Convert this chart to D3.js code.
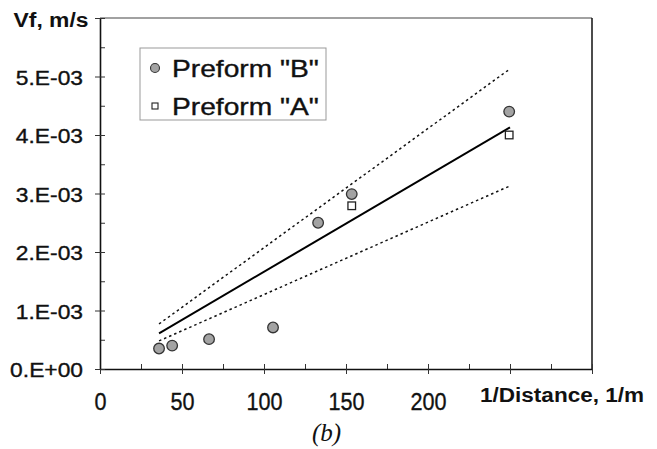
<!DOCTYPE html>
<html>
<head>
<meta charset="utf-8">
<script src="https://cdn.jsdelivr.net/npm/d3@7"></script>
<style>
  html, body { margin: 0; padding: 0; background: #fff; }
  svg { display: block; }
</style>
</head>
<body>
<svg id="chart" width="657" height="449"></svg>
<script>
// ---- data ----
const preformB_x = [36, 44, 66.5, 105.5, 133, 153.5, 249.5];
const preformB_y = [0.00035, 0.00040, 0.00051, 0.00071, 0.00250, 0.00299, 0.00440];
const preformA_x = [153.5, 249.5];
const preformA_y = [0.00279, 0.00400];
const fitLine   = [[36, 0.00061], [250, 0.00413]];
const upperLine = [[36, 0.00077], [250, 0.00513]];
const lowerLine = [[36, 0.00048], [250, 0.00313]];
const xTickValues = [0, 50, 100, 150, 200, 250, 300];
const xTickLabels = ["0", "50", "100", "150", "200", "", ""];
const yTickValues = [0, 0.001, 0.002, 0.003, 0.004, 0.005, 0.006];
const yTickLabels = ["0.E+00", "1.E-03", "2.E-03", "3.E-03", "4.E-03", "5.E-03", ""];
const legendLabels = ['Preform "B"', 'Preform "A"'];

// ---- layout ----
const L = 100, R = 592, T = 18, B = 369;
const svg = d3.select("#chart");
const x = d3.scaleLinear().domain([0, 300]).range([L, R]);
const y = d3.scaleLinear().domain([0, 0.006]).range([B, T]);
const font = "'Liberation Sans', Arial, sans-serif";

// frame (top and right)
svg.append("line").attr("x1", L).attr("x2", R).attr("y1", T).attr("y2", T)
  .attr("stroke", "#444").attr("stroke-width", 1.2);
svg.append("line").attr("x1", R).attr("x2", R).attr("y1", T).attr("y2", B)
  .attr("stroke", "#111").attr("stroke-width", 1.5);

// x axis: minor ticks (inside)
const xMinor = d3.range(25, 300, 50);
svg.append("g").attr("transform", `translate(0,${B})`)
  .call(d3.axisBottom(x).tickValues(xMinor).tickSize(-5).tickFormat(""))
  .call(g => g.select(".domain").remove())
  .call(g => g.selectAll("line").attr("stroke", "#333").attr("stroke-width", 1));
// x axis: major ticks (crossing)
const gx = svg.append("g").attr("transform", `translate(0,${B})`)
  .call(d3.axisBottom(x).tickValues(xTickValues).tickSize(5).tickSizeOuter(0)
    .tickFormat((d, i) => xTickLabels[i]));
gx.select(".domain").attr("stroke", "#111").attr("stroke-width", 1.6);
gx.selectAll(".tick line").attr("y1", -5).attr("y2", 5).attr("stroke", "#333").attr("stroke-width", 1);
gx.selectAll(".tick text")
  .attr("y", null).attr("dy", null)
  .attr("transform", "translate(0,41) scale(0.92,1)")
  .attr("font-family", font).attr("font-size", 23.5).attr("fill", "#111")
  .attr("stroke", "#111").attr("stroke-width", 0.35)
  .attr("text-anchor", "middle");

// y axis: minor ticks (inside)
const yMinor = d3.range(0.0005, 0.006, 0.001);
svg.append("g").attr("transform", `translate(${L},0)`)
  .call(d3.axisLeft(y).tickValues(yMinor).tickSize(-5).tickFormat(""))
  .call(g => g.select(".domain").remove())
  .call(g => g.selectAll("line").attr("stroke", "#333").attr("stroke-width", 1));
// y axis: major ticks (crossing)
const gy = svg.append("g").attr("transform", `translate(${L},0)`)
  .call(d3.axisLeft(y).tickValues(yTickValues).tickSize(5).tickSizeOuter(0)
    .tickFormat((d, i) => yTickLabels[i]));
gy.select(".domain").attr("stroke", "#111").attr("stroke-width", 1.6);
gy.selectAll(".tick line").attr("x1", -5).attr("x2", 5).attr("stroke", "#333").attr("stroke-width", 1);
gy.selectAll(".tick text")
  .attr("x", null).attr("dy", null)
  .attr("transform", "translate(-17,7.5) scale(1.14,1)")
  .attr("font-family", font).attr("font-size", 20).attr("fill", "#111")
  .attr("stroke", "#111").attr("stroke-width", 0.35)
  .attr("text-anchor", "end");

// axis titles
svg.append("text").attr("transform", "translate(13.5,27) scale(1.09,1)")
  .attr("font-family", font).attr("font-weight", "bold").attr("font-size", 21)
  .attr("fill", "#111").text("Vf, m/s");
svg.append("text").attr("transform", "translate(480,402) scale(1.1,1)")
  .attr("font-family", font).attr("font-weight", "bold").attr("font-size", 20.5)
  .attr("fill", "#111").text("1/Distance, 1/m");
svg.append("text").attr("x", 326.5).attr("y", 441)
  .attr("font-family", "'Liberation Serif', 'Times New Roman', serif")
  .attr("font-style", "italic").attr("font-size", 25).attr("text-anchor", "middle")
  .attr("fill", "#111").text("(b)");

// lines
const line = d3.line().x(d => x(d[0])).y(d => y(d[1]));
svg.append("path").datum(upperLine).attr("d", line).attr("fill", "none")
  .attr("stroke", "#111").attr("stroke-width", 1.5).attr("stroke-dasharray", "2.5,3");
svg.append("path").datum(lowerLine).attr("d", line).attr("fill", "none")
  .attr("stroke", "#111").attr("stroke-width", 1.5).attr("stroke-dasharray", "2.5,3");
svg.append("path").datum(fitLine).attr("d", line).attr("fill", "none")
  .attr("stroke", "#000").attr("stroke-width", 2);

// points
const ptsB = preformB_x.map((v, i) => [v, preformB_y[i]]);
const ptsA = preformA_x.map((v, i) => [v, preformA_y[i]]);
svg.append("g").selectAll("circle").data(ptsB).join("circle")
  .attr("cx", d => x(d[0])).attr("cy", d => y(d[1])).attr("r", 5.3)
  .attr("fill", "#a3a3a3").attr("stroke", "#333").attr("stroke-width", 1.3);
svg.append("g").selectAll("rect").data(ptsA).join("rect")
  .attr("x", d => x(d[0]) - 3.8).attr("y", d => y(d[1]) - 3.8)
  .attr("width", 7.6).attr("height", 7.6)
  .attr("fill", "#fff").attr("stroke", "#222").attr("stroke-width", 1.3);

// legend
const lg = svg.append("g");
lg.append("rect").attr("x", 140).attr("y", 48).attr("width", 186).attr("height", 72)
  .attr("fill", "#fff").attr("stroke", "#999").attr("stroke-width", 1);
lg.append("circle").attr("cx", 155).attr("cy", 68).attr("r", 4.5)
  .attr("fill", "#a3a3a3").attr("stroke", "#333").attr("stroke-width", 1.1);
lg.append("rect").attr("x", 152).attr("y", 103).attr("width", 6).attr("height", 6)
  .attr("fill", "#fff").attr("stroke", "#222").attr("stroke-width", 1.1);
[77, 115].forEach((by, i) => {
  lg.append("text").attr("transform", `translate(172,${by}) scale(1.2,1)`)
    .attr("font-family", font).attr("font-size", 23.5).attr("fill", "#111")
    .attr("stroke", "#111").attr("stroke-width", 0.35)
    .text(legendLabels[i]);
});
</script>
</body>
</html>
